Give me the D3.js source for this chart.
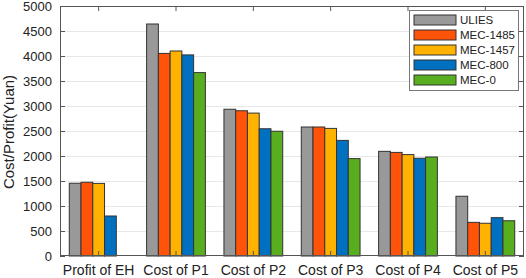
<!DOCTYPE html>
<html>
<head>
<meta charset="utf-8">
<script src="https://cdn.jsdelivr.net/npm/d3@7"></script>
<style>
  body { margin: 0; background: #fff; }
  svg { display: block; font-family: "Liberation Sans", Arial, sans-serif; }
</style>
</head>
<body>
<div id="chart"></div>
<script>
const categories = ["Profit of EH", "Cost of P1", "Cost of P2", "Cost of P3", "Cost of P4", "Cost of P5"];
const seriesNames = ["ULIES", "MEC-1485", "MEC-1457", "MEC-800", "MEC-0"];
const ulies   = [1455, 4640, 2935, 2580, 2093, 1195];
const mec1485 = [1475, 4052, 2905, 2580, 2072, 673];
const mec1457 = [1452, 4100, 2858, 2552, 2028, 655];
const mec800  = [800, 4022, 2545, 2312, 1955, 767];
const mec0    = [0, 3668, 2495, 1948, 1980, 705];
const yTicks  = [0, 500, 1000, 1500, 2000, 2500, 3000, 3500, 4000, 4500, 5000];
const colors  = ["#999999", "#ff5309", "#ffb300", "#0070c0", "#58ae1e"];

const allSeries = [ulies, mec1485, mec1457, mec800, mec0];
const data = categories.map((c, i) => {
  const row = { cat: c };
  seriesNames.forEach((s, j) => row[s] = allSeries[j][i]);
  return row;
});

const W = 526, H = 278;
const margin = { top: 6, right: 2, bottom: 22, left: 60 };
const width = W - margin.left - margin.right;
const height = H - margin.top - margin.bottom;

const svg = d3.select("#chart").append("svg")
    .attr("width", W)
    .attr("height", H)
  .append("g")
    .attr("transform", `translate(${margin.left},${margin.top})`);

const x0 = d3.scaleBand().domain(categories).range([0, width]).paddingInner(0).paddingOuter(0);
const x1 = d3.scaleBand().domain(seriesNames)
  .range([x0.bandwidth() * 0.12, x0.bandwidth() * 0.88]);
const y = d3.scaleLinear().domain([0, 5000]).range([height, 0]);

// grid
svg.append("g")
  .selectAll("line")
  .data(yTicks.slice(1, -1))
  .join("line")
    .attr("x1", 0)
    .attr("x2", width)
    .attr("y1", d => y(d) + 0.5)
    .attr("y2", d => y(d) + 0.5)
    .attr("stroke", "#e8e8e8")
    .attr("stroke-width", 1);

// bars
const groups = svg.append("g")
  .selectAll("g")
  .data(data)
  .join("g")
    .attr("transform", d => `translate(${x0(d.cat)},0)`);

groups.selectAll("rect")
  .data(d => seriesNames.map((s, j) => ({ key: s, value: d[s], j })))
  .join("rect")
    .attr("x", d => x1(d.key))
    .attr("y", d => y(d.value))
    .attr("width", x1.bandwidth())
    .attr("height", d => height - y(d.value))
    .attr("fill", d => colors[d.j])
    .attr("stroke", d => d.value > 0 ? "#333" : "none")
    .attr("stroke-width", 1);

// axes
const tickLen = 5;
const leftAxis = svg.append("g")
  .call(d3.axisLeft(y).tickValues(yTicks).tickFormat(d3.format("d"))
    .tickSizeInner(-tickLen).tickSizeOuter(0).tickPadding(8));
leftAxis.selectAll("text").style("font-size", "13px").attr("fill", "#222");

const rightAxis = svg.append("g")
  .attr("transform", `translate(${width},0)`)
  .call(d3.axisRight(y).tickValues(yTicks).tickSizeInner(-tickLen).tickSizeOuter(0).tickFormat(""));

const bottomAxis = svg.append("g")
  .attr("transform", `translate(0,${height})`)
  .call(d3.axisBottom(x0).tickSizeInner(-tickLen).tickSizeOuter(0).tickPadding(9));
bottomAxis.selectAll("text").style("font-size", "14px").attr("fill", "#222");

const topAxis = svg.append("g")
  .call(d3.axisTop(x0).tickSizeInner(-tickLen).tickSizeOuter(0).tickFormat(""));

[leftAxis, rightAxis, bottomAxis, topAxis].forEach(a => {
  a.select(".domain").remove();
  a.selectAll("line").attr("stroke", "#555");
});

// frame
svg.append("rect")
  .attr("x", 0.5)
  .attr("y", 0.5)
  .attr("width", width - 1)
  .attr("height", height - 1)
  .attr("fill", "none")
  .attr("stroke", "#555")
  .attr("stroke-width", 1);

// y label
svg.append("text")
  .attr("transform", "rotate(-90)")
  .attr("x", -height / 2 - 1)
  .attr("y", -51)
  .attr("dy", "0.35em")
  .attr("text-anchor", "middle")
  .style("font-size", "15px")
  .attr("fill", "#222")
  .text("Cost/Profit(Yuan)");

// legend
const legend = svg.append("g")
  .attr("transform", `translate(${width - 114.5},${4.5})`);

legend.append("rect")
  .attr("x", 0)
  .attr("y", 0)
  .attr("width", 109)
  .attr("height", 80)
  .attr("fill", "#fff")
  .attr("stroke", "#777");

const items = legend.selectAll("g.item")
  .data(seriesNames)
  .join("g")
    .attr("class", "item")
    .attr("transform", (d, i) => `translate(4.5,${4.5 + i * 15})`);

items.append("rect")
  .attr("x", 0)
  .attr("y", 0)
  .attr("width", 42)
  .attr("height", 10)
  .attr("fill", (d, i) => colors[i])
  .attr("stroke", "#333");

items.append("text")
  .attr("x", 46)
  .attr("y", 5)
  .attr("dy", "0.36em")
  .style("font-size", "11.5px")
  .attr("fill", "#222")
  .text(d => d);
</script>
</body>
</html>
